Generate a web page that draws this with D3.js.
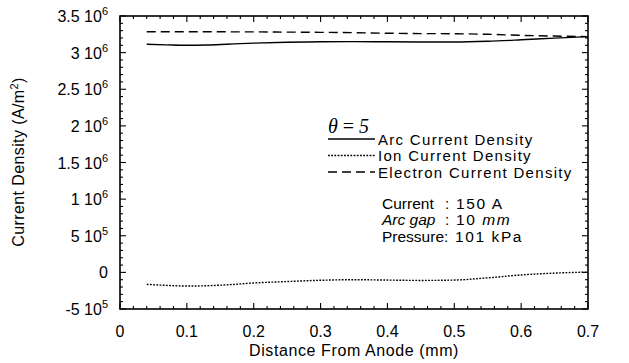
<!DOCTYPE html>
<html>
<head>
<meta charset="utf-8">
<script src="https://cdn.jsdelivr.net/npm/d3@7"></script>
<style>
  body { margin: 0; background: #fff; }
  text { font-family: "Liberation Sans", Arial, sans-serif; fill: #000; }
</style>
</head>
<body>
<div id="chart"></div>
<script>
// distance from anode (mm)
const distance = [0.04, 0.07, 0.1, 0.13, 0.16, 0.2, 0.25, 0.3, 0.35, 0.4, 0.45, 0.5, 0.55, 0.6, 0.65, 0.7];
// current densities (A/m^2)
const arcDensity = [3.114e6, 3.106e6, 3.100e6, 3.104e6, 3.115e6, 3.130e6, 3.142e6, 3.149e6, 3.150e6, 3.148e6, 3.146e6, 3.145e6, 3.155e6, 3.175e6, 3.198e6, 3.218e6];
const ionDensity = [-1.64e5, -1.78e5, -1.87e5, -1.82e5, -1.70e5, -1.45e5, -1.25e5, -1.08e5, -1.00e5, -1.05e5, -1.10e5, -1.05e5, -0.75e5, -0.35e5, -0.10e5, 0.04e5];
const electronDensity = [3.286e6, 3.286e6, 3.286e6, 3.285e6, 3.284e6, 3.283e6, 3.280e6, 3.277e6, 3.272e6, 3.265e6, 3.260e6, 3.258e6, 3.250e6, 3.236e6, 3.226e6, 3.218e6];

const xTicks = [0, 0.1, 0.2, 0.3, 0.4, 0.5, 0.6, 0.7];
const yTicks = [-5e5, 0, 5e5, 1e6, 1.5e6, 2e6, 2.5e6, 3e6, 3.5e6];
const yTickMant = ["-5", "0", "5", "1", "1.5", "2", "2.5", "3", "3.5"];
const yTickExp = ["5", "", "5", "6", "6", "6", "6", "6", "6"];

const seriesNames = ["Arc Current Density", "Ion Current Density", "Electron Current Density"];
const infoLabels = ["Current", "Arc gap", "Pressure:"];
const infoValues = ["150 A", "10", "101 kPa"];

const W = 629, H = 363;
const margin = {top: 16, right: 41, bottom: 54, left: 120};
const width = W - margin.left - margin.right;
const height = H - margin.top - margin.bottom;

const svg = d3.select("#chart").append("svg")
    .attr("width", W).attr("height", H);
const g = svg.append("g").attr("transform", `translate(${margin.left},${margin.top})`);

const x = d3.scaleLinear().domain([0, 0.7]).range([0, width]);
const y = d3.scaleLinear().domain([-5e5, 3.5e6]).range([height, 0]);

// ticks on all 4 sides, pointing inward
const xMinor = d3.range(0, 0.7001, 0.02);
const yMinor = d3.range(-5e5, 3.5001e6, 1e5);
const tickG = g.append("g").attr("stroke", "#000").attr("stroke-width", 1.1);
xMinor.forEach(v => {
  const major = xTicks.some(t => Math.abs(t - v) < 1e-6);
  const len = major ? 6 : 3;
  tickG.append("line").attr("x1", x(v)).attr("x2", x(v)).attr("y1", height).attr("y2", height - len);
  tickG.append("line").attr("x1", x(v)).attr("x2", x(v)).attr("y1", 0).attr("y2", len);
});
yMinor.forEach(v => {
  const major = yTicks.some(t => Math.abs(t - v) < 1);
  const len = major ? 6 : 3;
  tickG.append("line").attr("x1", 0).attr("x2", len).attr("y1", y(v)).attr("y2", y(v));
  tickG.append("line").attr("x1", width).attr("x2", width - len).attr("y1", y(v)).attr("y2", y(v));
});

g.append("rect").attr("width", width).attr("height", height)
    .attr("fill", "none").attr("stroke", "#000").attr("stroke-width", 1.6);

// x tick labels
g.selectAll(".xl").data(xTicks).enter().append("text")
    .attr("x", d => x(d)).attr("y", height + 28)
    .attr("text-anchor", "middle").style("font-size", "16px")
    .text(d => d === 0 ? "0" : d3.format(".1f")(d));

// y tick labels with superscripts
yTicks.forEach((v, i) => {
  const t = g.append("text").attr("x", -12).attr("y", y(v) + 6)
      .attr("text-anchor", "end").style("font-size", "16px");
  if (yTickExp[i] === "") {
    t.text(yTickMant[i]);
  } else {
    t.append("tspan").text(yTickMant[i] + " 10");
    t.append("tspan").attr("dy", -7).style("font-size", "11px").text(yTickExp[i]);
  }
});

// axis titles
svg.append("text").attr("x", margin.left + width / 2).attr("y", 356)
    .attr("text-anchor", "middle").style("font-size", "16px").style("letter-spacing", "0.6px")
    .text("Distance From Anode (mm)");
const yt = svg.append("text")
    .attr("transform", `translate(24,${margin.top + 146}) rotate(-90)`)
    .attr("text-anchor", "middle").style("font-size", "16px").style("letter-spacing", "0.4px");
yt.append("tspan").text("Current Density (A/m");
yt.append("tspan").attr("dy", -6).style("font-size", "11px").text("2");
yt.append("tspan").attr("dy", 6).text(")");

// lines
const line = vals => d3.line()
    .x((d, i) => x(distance[i]))
    .y(d => y(d))
    .curve(d3.curveMonotoneX)(vals);

const styles = [
  {data: arcDensity, dash: null},
  {data: ionDensity, dash: "1.8,1.4"},
  {data: electronDensity, dash: "9,5"}
];
styles.forEach(s => {
  g.append("path").attr("d", line(s.data))
      .attr("fill", "none").attr("stroke", "#000").attr("stroke-width", 1.4)
      .attr("stroke-dasharray", s.dash);
});

// theta label
const th = svg.append("text").attr("x", 328).attr("y", 133)
    .style("font-family", "'Liberation Serif', serif").style("font-size", "20px");
th.append("tspan").style("font-style", "italic").text("θ");
th.append("tspan").text(" = ");
th.append("tspan").style("font-style", "italic").text("5");

// legend
seriesNames.forEach((name, i) => {
  const ly = 139 + i * 16.5;
  svg.append("line").attr("x1", 328).attr("x2", 375).attr("y1", ly).attr("y2", ly)
      .attr("stroke", "#000").attr("stroke-width", 1.3)
      .attr("stroke-dasharray", styles[i].dash);
  svg.append("text").attr("x", 378).attr("y", ly + 5.5)
      .style("font-size", "15px").style("letter-spacing", "1.3px").text(name);
});

// run info
infoLabels.forEach((lab, i) => {
  const iy = 208.5 + i * 16.5;
  svg.append("text").attr("x", 382).attr("y", iy)
      .style("font-size", "15.5px")
      .style("font-style", i === 1 ? "italic" : "normal")
      .text(lab);
  if (i < 2) {
    svg.append("text").attr("x", 445).attr("y", iy)
        .style("font-size", "15.5px").text(":");
  }
  const t = svg.append("text").attr("x", i === 2 ? 455 : 456).attr("y", iy)
      .style("font-size", "15.5px").style("letter-spacing", "1.6px");
  t.append("tspan").text(infoValues[i]);
  if (i === 1) t.append("tspan").style("font-style", "italic").text(" mm");
});
</script>
</body>
</html>
